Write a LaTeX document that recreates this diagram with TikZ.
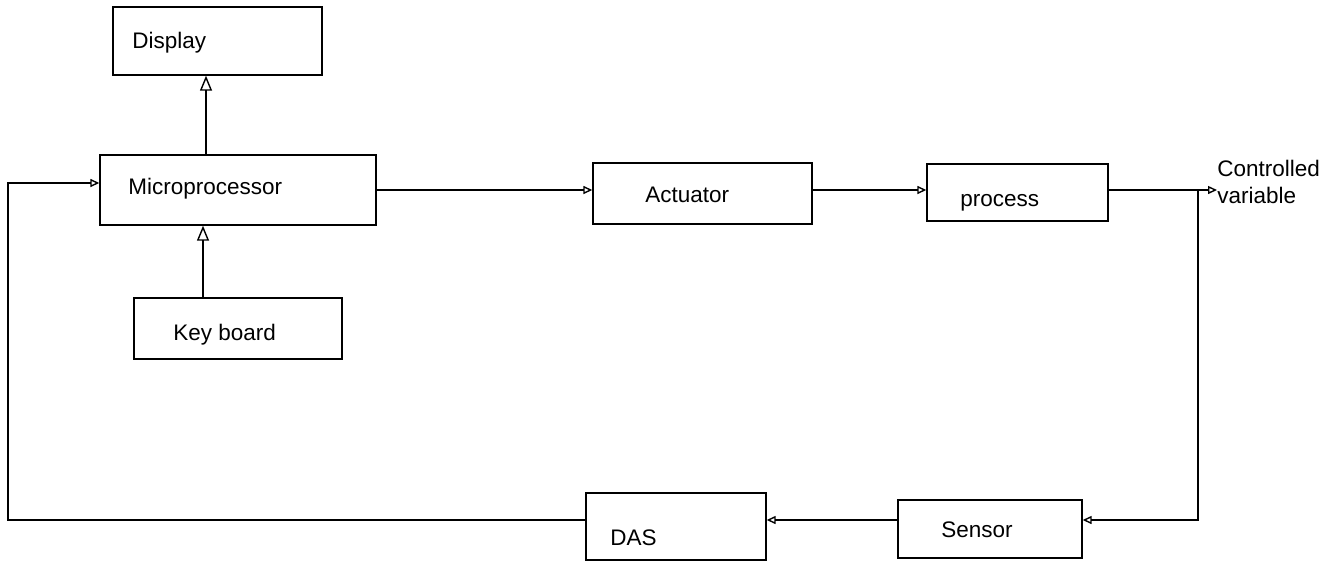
\documentclass[tikz,border=0pt]{standalone}
\usepackage{fontspec}
\setmainfont{Liberation Sans}
\usetikzlibrary{arrows.meta}
\tikzset{
  blk/.style={draw, line width=0.8pt, rectangle, inner sep=0pt},
  lbl/.style={anchor=west, inner sep=0pt, font=\fontsize{12.8pt}{15.4pt}\selectfont},
  wire/.style={line width=0.8pt},
  upflow/.style={wire, -{Triangle[open, length=3mm, width=2.4mm]}},
  flow/.style={wire, -{Triangle[open, length=1.8mm, width=1.6mm]}}
}
\begin{document}
\begin{tikzpicture}[x=0.02cm, y=-0.02cm]
        \useasboundingbox (0,0) rectangle (1332,561);
        % blocks
        \node[blk, minimum width=4.18cm, minimum height=1.36cm] (disp) at (217.5,41) {};
        \node[blk, minimum width=5.52cm, minimum height=1.40cm] (micro) at (238,190) {};
        \node[blk, minimum width=4.16cm, minimum height=1.22cm] (kb) at (238,328.5) {};
        \node[blk, minimum width=4.38cm, minimum height=1.22cm] (act) at (702.5,193.5) {};
        \node[blk, minimum width=3.62cm, minimum height=1.14cm] (proc) at (1017.5,192.5) {};
        \node[blk, minimum width=3.60cm, minimum height=1.34cm] (das) at (676,526.5) {};
        \node[blk, minimum width=3.68cm, minimum height=1.16cm] (sen) at (990,529) {};
        % labels
        \node[lbl] (disptxt) at (132,43) {Display};
        \node[lbl] (microtxt) at (128,189) {Microprocessor};
        \node[lbl] (kbtxt) at (173,335) {Key board};
        \node[lbl] (acttxt) at (645,195) {Actuator};
        \node[lbl] (proctxt) at (960,203) {process};
        \node[lbl] (dastxt) at (610,538) {DAS};
        \node[lbl] (sentxt) at (941,530) {Sensor};
        \node[lbl, align=left] (cv) at (1217,182) {Controlled\\variable};
        % corners
        \coordinate (out) at (1217,190);
        \coordinate (tap) at (1198,190);
        \coordinate (ret) at (1198,520);
        \coordinate (fb) at (8,183);
        % forward path
        \draw[upflow] ([xshift=-0.64cm]micro.north) -- ([xshift=-0.64cm]micro.north |- disp.south);
        \draw[upflow] ([xshift=-0.70cm]kb.north) -- ([xshift=-0.70cm]kb.north |- micro.south);
        \draw[flow] (micro.east) -- (micro.east -| act.west);
        \draw[flow] (micro.east -| act.east) -- (micro.east -| proc.west);
        \draw[flow] (micro.east -| proc.east) -- (out);
        % feedback path
        \draw[flow] (tap) -- (ret) -- (ret -| sen.east);
        \draw[flow] (ret -| sen.west) -- (ret -| das.east);
        \draw[flow] (ret -| das.west) -| (fb) -- (fb -| micro.west);
      \end{tikzpicture}
\end{document}
